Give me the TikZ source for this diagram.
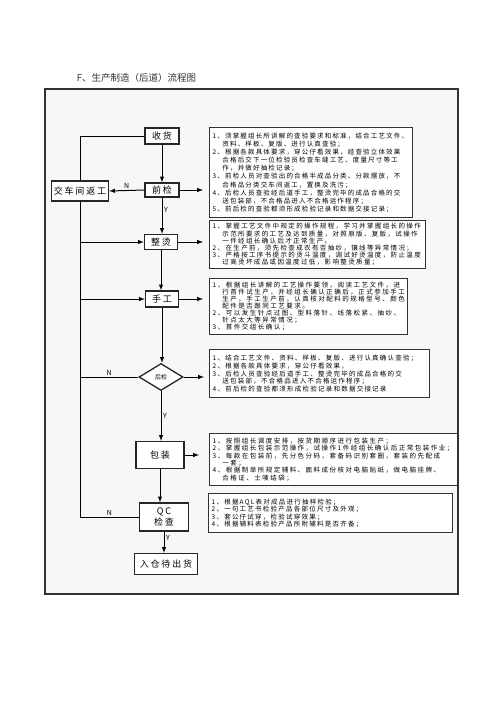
\documentclass[tikz,border=0pt]{standalone}
\usepackage{fontspec}
\setmainfont{Noto Sans CJK SC}
\usetikzlibrary{shapes.geometric}

\newcommand\notefont[3]{\fontsize{#1}{#2}\selectfont\addfontfeatures{LetterSpace=#3}}
\newcommand\contline{\hspace*{1.5em}}

\tikzset{
  stepnode/.style={draw=black!85, line width=1.3pt, fill=white, inner sep=1pt,
    font=\fontsize{9}{10.5}\selectfont\addfontfeatures{LetterSpace=20}},
  notebox/.style={draw=black!80, line width=1.4pt, fill=white, anchor=north west,
    align=left, inner xsep=3pt, inner ysep=0pt},
  lbl/.style={font=\fontsize{7}{7}\selectfont, inner sep=1.5pt},
}

\begin{document}
\begin{tikzpicture}[x=1pt, y=-1pt, >=latex, line width=1pt]
  \useasboundingbox (0,0) rectangle (500,707);

  % title and frame
  \node[anchor=west, text=black!80, font=\fontsize{9.5}{10}\selectfont] (title) at (73,78) {F、生产制造（后道）流程图};
  \draw[draw=black!80, line width=1.2pt, fill=black!3] (45,89) rectangle (458,594);

  % flow steps
  \node[stepnode, minimum width=34pt, minimum height=16pt] (shouhuo) at (162,136) {收货};
  \node[stepnode, minimum width=34pt, minimum height=14pt] (qianjian) at (162,190) {前检};
  \node[stepnode, minimum width=57pt, minimum height=20pt] (fangong) at (80,191) {交车间返工};
  \node[stepnode, minimum width=33pt, minimum height=15pt] (zhengtang) at (161,242) {整烫};
  \node[stepnode, minimum width=33pt, minimum height=16pt] (shougong) at (162,299) {手工};
  \node[stepnode, shape=diamond, minimum width=44pt, minimum height=27pt, inner sep=0pt,
    font=\fontsize{6}{6}\selectfont] (houjian) at (161,377) {后检};
  \node[stepnode, minimum width=48pt, minimum height=27pt] (baozhuang) at (160,455) {包装};
  \node[stepnode, minimum width=49pt, minimum height=28pt, align=center,
    font=\fontsize{9}{11}\selectfont\addfontfeatures{LetterSpace=20}] (qc) at (164,517) {QC\\检查};
  \node[stepnode, minimum width=63pt, minimum height=21pt] (rucang) at (166,564) {入仓待出货};

  % notes
  \node[notebox, minimum width=203pt, minimum height=90pt, text width=197pt,
    font=\notefont{6.5}{8.1}{18}] (note1) at (209,127) {%
    1、须掌握组长所讲解的查验要求和标准，结合工艺文件、\\
    \contline 资料、样板、复版、进行认真查验；\\
    2、根据各款具体要求，穿公仔看效果，经查验立体效果\\
    \contline 合格后交下一位检验员检查车缝工艺、度量尺寸等工\\
    \contline 作，并做好抽检记录；\\
    3、前检人员对查验出的合格半成品分类、分款摆放，不\\
    \contline 合格品分类交车间返工，置换及洗污；\\
    4、后检人员查验经后道手工，整烫完毕的成品合格的交\\
    \contline 送包装部，不合格品进入不合格运作程序；\\
    5、前后检的查验都须形成检验记录和数据交接记录；};
  \node[notebox, minimum width=216pt, minimum height=48pt, text width=210pt,
    font=\notefont{6.5}{7.2}{21}] (note2) at (209,220) {%
    1、掌握工艺文件中规定的操作规程，学习并掌握组长的操作\\
    \contline 示范所要求的工艺及达到质量，对照原版、复版，试操作\\
    \contline 一件经组长确认后才正常生产。\\
    2、在生产前，须先检查成衣有否抽纱，镶线等异常情况；\\
    3、严格按工序书提示的烫斗温度，调试好烫温度，防止温度\\
    \contline 过高烫坏成品或因温度过低，影响整烫质量；};
  \node[notebox, minimum width=198pt, minimum height=56pt, text width=192pt,
    font=\notefont{6.5}{7}{23}] (note3) at (209,278) {%
    1、根据组长讲解的工艺操作要领，阅读工艺文件，进\\
    \contline 行首件试生产，并经组长确认正确后，正式参加手工\\
    \contline 生产，手工生产前，认真核对配料的规格型号、颜色\\
    \contline 配件是否跟同工艺要求。\\
    2、可以发生针点过图、型料落针、线落松紧、抽纱、\\
    \contline 针点太大等异常情况；\\
    3、首件交组长确认；};
  \node[notebox, minimum width=220pt, minimum height=48pt, text width=214pt,
    font=\notefont{6.5}{7.75}{19}] (note4) at (209,349) {%
    1、结合工艺文件、资料、样板、复版、进行认真确认查验；\\
    2、根据各款具体要求，穿公仔看效果，\\
    3、后检人员查验经后道手工、整烫完毕的成品合格的交\\
    \contline 送包装部，不合格品进入不合格运作程序；\\
    4、前后检的查验都须形成检验记录和数据交接记录};
  \node[notebox, minimum width=248pt, minimum height=52pt, text width=242pt,
    font=\notefont{6.5}{7.3}{23}] (note5) at (209,433) {%
    1、按照组长调度安排，按货期顺序进行包装生产；\\
    2、掌握组长包装示范操作，试操作1件经组长确认后正常包装作业；\\
    3、每款在包装前，先分色分码，套备码识别套圈，套装的先配成\\
    \contline 一套；\\
    4、根据制单所规定辅料、面料成份核对电脑贴纸，做电脑挂牌、\\
    \contline 合格证、士唛结袋；};
  \node[notebox, minimum width=244pt, minimum height=39pt, text width=238pt,
    font=\notefont{6.5}{7.3}{19}] (note6) at (208,493) {%
    1、根据AQL表对成品进行抽样检验；\\
    2、一句工艺书检验产品各部位尺寸及外观；\\
    3、套公仔试穿，检验试穿效果；\\
    4、根据辅料表检验产品所附辅料是否齐备；};

  % main flow
  \draw[->] (shouhuo.south) -- (shouhuo.south |- qianjian.north);
  \draw[->] (qianjian.south) -- (qianjian.south |- zhengtang.north) node[pos=0.35, right, lbl] {Y};
  \draw[->] (zhengtang.south) -- (zhengtang.south |- shougong.north);
  \draw[->] (shougong.south) -- (shougong.south |- houjian.north);
  \draw[->] (houjian.south) -- (houjian.south |- baozhuang.north) node[midway, right, lbl] {Y};
  \draw[->] (baozhuang.south) -- (baozhuang.south |- qc.north);
  \draw[->] (qc.south) -- (qc.south |- rucang.north) node[pos=0.3, right, lbl] {Y};

  % rework loop
  \draw[->] (qianjian.west) -- (fangong.east) node[midway, above, lbl] {N};
  \draw (fangong.north) |- (shouhuo.west);
  \draw (fangong.south) |- (qc.west) node[pos=0.75, above, lbl] {N};
  \draw[->] (fangong.south |- zhengtang.west) -- (zhengtang.west);
  \draw[->] (fangong.south |- shougong.west) -- (shougong.west);
  \draw (houjian.west) -- (fangong.south |- houjian.west) node[midway, above, lbl] {N};

  % to the notes
  \draw[->, shorten >=6pt] (qianjian.east) -- (qianjian.east -| note1.west);
  \draw[->, shorten >=6pt] (zhengtang.east) -- (zhengtang.east -| note2.west);
  \draw[->, shorten >=6pt] (shougong.east) -- (shougong.east -| note3.west);
  \draw[->, shorten >=5pt] (houjian.east) -- (houjian.east -| note4.west);
  \draw[->, shorten >=10pt] (baozhuang.east) -- (baozhuang.east -| note5.west);
\end{tikzpicture}
\end{document}
